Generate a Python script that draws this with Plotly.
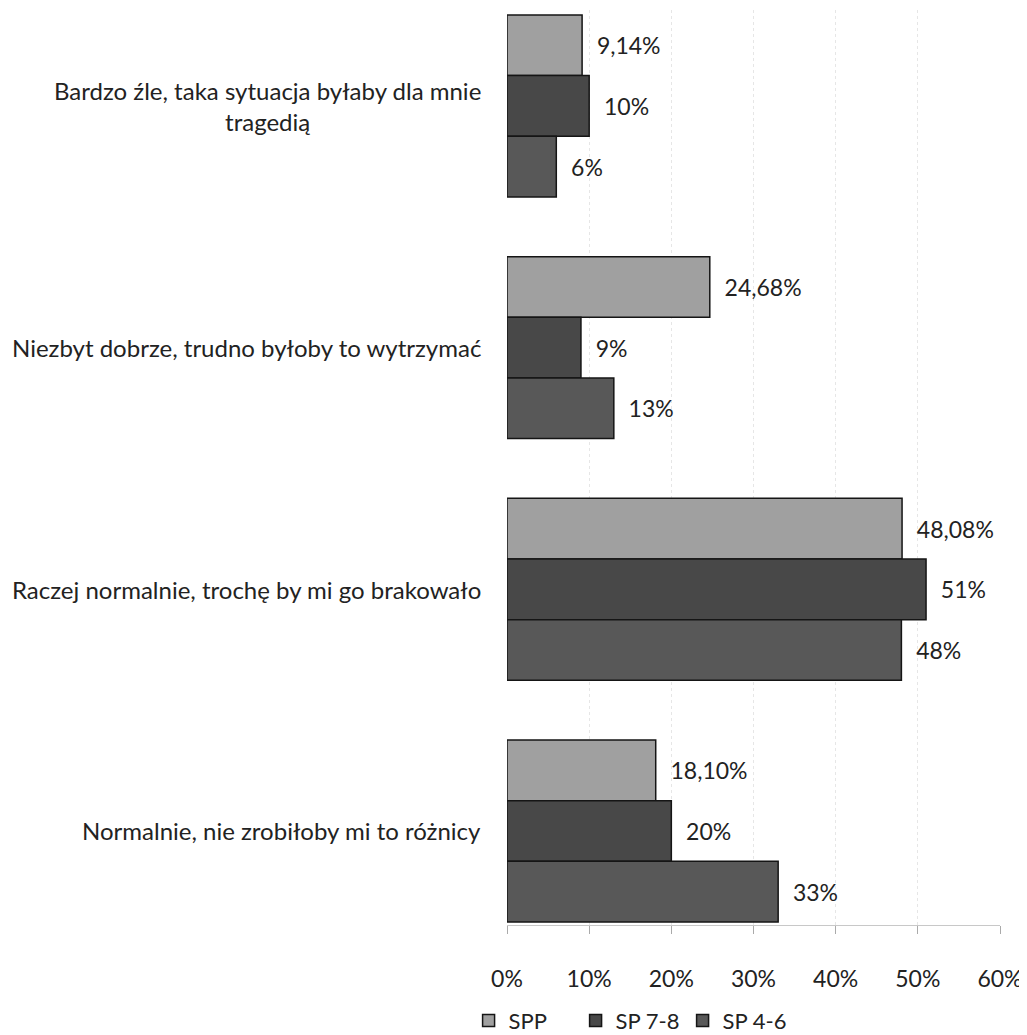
import plotly.graph_objects as go

categories = [
    "Bardzo źle, taka sytuacja byłaby dla mnie<br>tragedią",
    "Niezbyt dobrze, trudno byłoby to wytrzymać",
    "Raczej normalnie, trochę by mi go brakowało",
    "Normalnie, nie zrobiłoby mi to różnicy",
]
series_names = ["SPP", "SP 7-8", "SP 4-6"]
spp = [9.14, 24.68, 48.08, 18.10]
sp78 = [10, 9, 51, 20]
sp46 = [6, 13, 48, 33]
series_values = [spp, sp78, sp46]
decimals = [2, 0, 0]
colors = ["#a0a0a0", "#484848", "#585858"]
tick_vals = [0, 10, 20, 30, 40, 50, 60]
tick_text = ["0%", "10%", "20%", "30%", "40%", "50%", "60%"]

FONT = "Lato, 'Open Sans', sans-serif"

def fmt(v, d):
    s = f"{v:.{d}f}".replace(".", ",")
    return "  " + s + "%"

fig = go.Figure()
for name, vals, d, c in zip(series_names, series_values, decimals, colors):
    fig.add_trace(go.Bar(
        y=list(range(len(categories))), x=vals, name=name, orientation="h",
        marker=dict(color=c, line=dict(color="#151515", width=1.5)),
        text=[fmt(v, d) for v in vals], textposition="outside",
        textfont=dict(size=23, color="#222", family=FONT),
        cliponaxis=False,
    ))

for i, cat in enumerate(categories):
    fig.add_annotation(
        x=0, xref="paper", xanchor="right", xshift=-24,
        y=i, yref="y", text=cat, showarrow=False, align="center",
        font=dict(size=24, color="#222", family=FONT),
    )

fig.update_layout(
    width=1019, height=1027,
    margin=dict(l=499, r=27, t=2, b=110, autoexpand=False),
    barmode="group", bargap=0.247, bargroupgap=0,
    plot_bgcolor="white", paper_bgcolor="white",
    font=dict(family=FONT, size=23, color="#222"),
    showlegend=True,
    legend=dict(orientation="h", xref="container", yref="container",
                x=0.452, xanchor="left", y=0.014, yanchor="middle",
                font=dict(size=22, color="#222"), entrywidth=62,
                itemwidth=30, traceorder="normal"),
)
fig.update_xaxes(
    range=[0, 60], tickvals=tick_vals, ticktext=tick_text,
    showgrid=True, gridcolor="#e6e6e6", griddash="dot", gridwidth=1,
    zeroline=False, showline=True, linecolor="#c8c8c8",
    ticks="outside", ticklen=8, tickcolor="#aaa",
    tickfont=dict(size=23, color="#222"), ticklabelstandoff=25,
    ticklabeloverflow="allow", automargin=False,
)
fig.update_yaxes(
    range=[3.389, -0.397], showticklabels=False, showgrid=False,
    zeroline=False, showline=False, automargin=False,
)

fig.write_html("out.html")
